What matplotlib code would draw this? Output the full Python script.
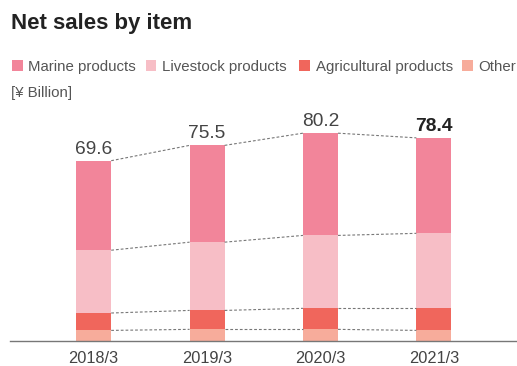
import numpy as np
import matplotlib
matplotlib.use('Agg')
import matplotlib.pyplot as plt
from matplotlib.patches import Rectangle

plt.rcParams['font.family'] = ['Liberation Sans', 'DejaVu Sans']

years = ['2018/3', '2019/3', '2020/3', '2021/3']
categories = ['Marine products', 'Livestock products', 'Agricultural products', 'Other']
# stacked from the top down in the legend, bottom up in the bars
marine = [34.5, 37.3, 39.4, 36.8]
livestock = [24.2, 26.3, 28.1, 28.9]
agri = [6.7, 7.3, 8.1, 8.5]
other = [4.2, 4.6, 4.6, 4.2]
totals = ['69.6', '75.5', '80.2', '78.4']
colors = ['#F2859A', '#F7BEC6', '#F0665C', '#F7AC9B']

W, H = 517, 366
fig = plt.figure(figsize=(W / 100, H / 100), dpi=100)

base_y = 341.3
top_y = 110
ax = fig.add_axes([10 / W, (H - base_y) / H, (W - 10) / W, (base_y - top_y) / H])

x = np.arange(len(years))
bw = 0.309
stack = [other, agri, livestock, marine]
stack_colors = colors[::-1]
bottom = np.zeros(len(years))
levels = []
for vals, col in zip(stack, stack_colors):
    vals = np.array(vals)
    ax.bar(x, vals, width=bw, bottom=bottom, color=col, linewidth=0)
    bottom = bottom + vals
    levels.append(bottom.copy())

for lev in levels:
    for i in range(len(years) - 1):
        ax.plot([x[i] + bw / 2, x[i + 1] - bw / 2], [lev[i], lev[i + 1]],
                color='#777777', lw=0.8, ls=(0, (2.5, 1.8)))

for i, t in enumerate(totals):
    last = i == len(totals) - 1
    ax.annotate(t, (x[i], levels[-1][i]), xytext=(0, 5), textcoords='offset points',
                ha='center', va='baseline', fontsize=13.8,
                color='#222222' if last else '#444444',
                fontweight='bold' if last else 'normal')

ax.set_xlim(-0.738, 3.733)
ax.set_ylim(0, (base_y - top_y) / 2.595)
ax.set_xticks(x)
ax.set_xticklabels(years, fontsize=11.8, color='#444444')
ax.tick_params(axis='x', length=0, pad=7)
ax.set_yticks([])
for s in ['top', 'right', 'left']:
    ax.spines[s].set_visible(False)
ax.spines['bottom'].set_color('#777777')
ax.spines['bottom'].set_linewidth(1.0)

fig.text(11 / W, 1 - 29.5 / H, 'Net sales by item', fontsize=16, fontweight='bold',
         color='#222222', va='baseline')

# legend drawn by hand: square + label, positions in pixels from the top-left
leg_x = [12, 145.7, 299, 462]
for lx, name, col in zip(leg_x, categories, colors):
    fig.add_artist(Rectangle((lx / W, 1 - 70.7 / H), 10.5 / W, 10.5 / H,
                             transform=fig.transFigure, color=col, lw=0))
    fig.text((lx + 16.5) / W, 1 - 70.7 / H, name, fontsize=10.8, color='#555555',
             va='baseline')
fig.text(11 / W, 1 - 97 / H, '[¥ Billion]', fontsize=10.8, color='#555555', va='baseline')

fig.savefig('out.png', dpi=100)
